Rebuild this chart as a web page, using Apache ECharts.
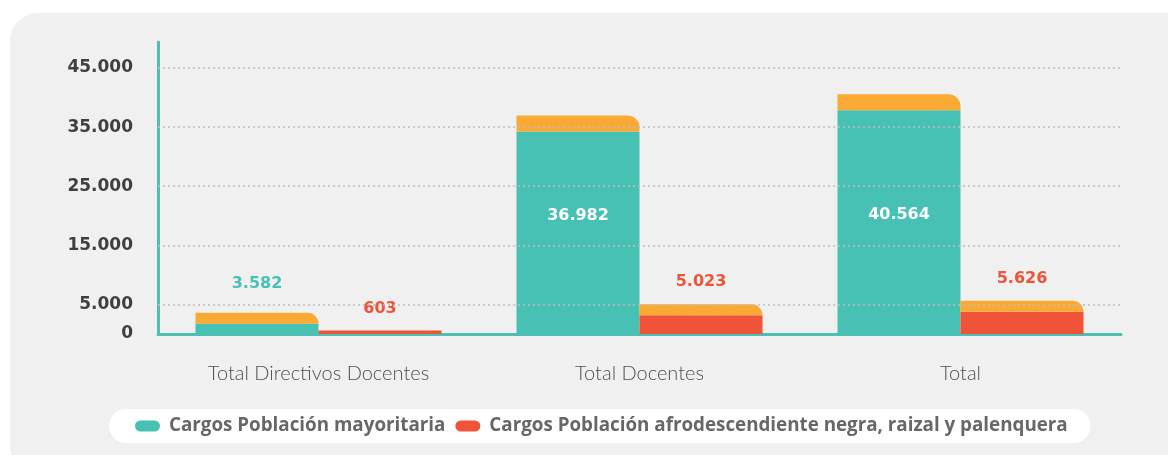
<!DOCTYPE html>
<html lang="es">
<head>
    <meta charset="UTF-8">
    <title>cargos</title>
    <script src="https://cdn.jsdelivr.net/npm/echarts@6/dist/echarts.min.js"></script>
    <style>
        html, body { margin: 0; padding: 0; background: #fff; overflow: hidden; }
        .panel { position: absolute; left: 10px; top: 13px; width: 1200px; height: 460px;
                 border-radius: 28px; background: #eff0ef; }
        .mainChart { position: absolute; left: 0; top: 0; width: 1168px; height: 455px; }
    </style>
</head>
<body>
<div class="panel"></div>
<div id="chart" class="mainChart"></div>

<script type="text/javascript">
    // datos
    var categorias = ['Total Directivos Docentes', 'Total Docentes', 'Total'];
    var mayoritaria = [3582, 36982, 40564];
    var afro = [603, 5023, 5626];
    // franja naranja encima de cada barra
    var franjaMay = [1860, 2710, 2710];
    var franjaAfro = [0, 1860, 1860];
    var tickValues = [0, 5000, 15000, 25000, 35000, 45000];
    var nombres = ['Cargos Población mayoritaria', 'Cargos Población afrodescendiente negra, raizal y palenquera'];

    var TEAL = '#47c1b3', ORANGE = '#f9a934', RED = '#ef5338';

    function fmt(v) {
        return String(v).replace(/\B(?=(\d{3})+(?!\d))/g, '.');
    }

    var baseMay = mayoritaria.map(function (v, i) { return v - franjaMay[i]; });
    var baseAfro = afro.map(function (v, i) { return v - franjaAfro[i]; });

    var valFont = { fontFamily: 'DejaVu Sans', fontWeight: 'bold', fontSize: 16 };

    var myChart = echarts.init(document.getElementById('chart'));
    var option = {
        backgroundColor: 'transparent',
        animation: false,
        grid: { left: 158, right: 47, top: 42, bottom: 121 },
        legend: {
            data: [
                { name: nombres[0], itemStyle: { color: TEAL } },
                { name: nombres[1], itemStyle: { color: RED } }
            ],
            left: 109,
            top: 409,
            backgroundColor: '#ffffff',
            borderRadius: 17,
            padding: [7, 23, 7, 26],
            itemGap: 10,
            itemWidth: 25,
            itemHeight: 11,
            icon: 'path://M5.5,0H19.5A5.5,5.5,0,0,1,19.5,11H5.5A5.5,5.5,0,0,1,5.5,0Z',
            textStyle: {
                fontFamily: 'Open Sans',
                fontWeight: 'bold',
                fontSize: 18.8,
                color: '#676767',
                lineHeight: 20,
                padding: [0, 0, 0, 4]
            }
        },
        xAxis: {
            type: 'category',
            data: categorias,
            axisLine: { lineStyle: { color: '#4cc1b3', width: 3 } },
            axisTick: { show: false },
            axisLabel: {
                margin: 30,
                fontFamily: 'Lato',
                fontWeight: 300,
                fontSize: 20,
                color: '#4f4f4f'
            }
        },
        yAxis: {
            type: 'value',
            min: 0,
            max: 49400,
            axisLine: { show: true, lineStyle: { color: '#4cc1b3', width: 3 } },
            axisTick: { show: false },
            splitLine: { show: false },
            axisLabel: {
                customValues: tickValues,
                formatter: function (v) { return fmt(v); },
                margin: 25,
                fontFamily: 'DejaVu Sans',
                fontWeight: 'bold',
                fontSize: 17,
                color: '#3f3f3f'
            }
        },
        series: [
            {
                // lineas guia punteadas
                type: 'line',
                data: [],
                z: 1,
                silent: true,
                markLine: {
                    symbol: 'none',
                    silent: true,
                    label: { show: false },
                    lineStyle: { color: '#bdbdbd', width: 1.5, type: [2, 3] },
                    data: tickValues.slice(1).map(function (v) { return { yAxis: v }; })
                }
            },
            {
                name: nombres[0],
                type: 'bar',
                stack: 'may',
                barWidth: 123,
                barGap: '0%',
                itemStyle: { color: TEAL },
                data: baseMay.map(function (v, i) {
                    var d = { value: v };
                    if (i > 0) {
                        d.label = {
                            show: true,
                            position: 'inside',
                            offset: [0, i === 1 ? -17 : -7],
                            color: '#ffffff',
                            fontFamily: valFont.fontFamily,
                            fontWeight: valFont.fontWeight,
                            fontSize: valFont.fontSize,
                            formatter: fmt(mayoritaria[i])
                        };
                    }
                    return d;
                })
            },
            {
                name: 'franjaMay',
                type: 'bar',
                stack: 'may',
                barWidth: 123,
                itemStyle: { color: ORANGE, borderRadius: [0, 12, 0, 0] },
                data: franjaMay.map(function (v, i) {
                    var d = { value: v };
                    if (i === 0) {
                        d.label = {
                            show: true,
                            position: 'top',
                            distance: 21,
                            color: TEAL,
                            fontFamily: valFont.fontFamily,
                            fontWeight: valFont.fontWeight,
                            fontSize: valFont.fontSize,
                            formatter: fmt(mayoritaria[i])
                        };
                    }
                    return d;
                })
            },
            {
                name: nombres[1],
                type: 'bar',
                stack: 'afro',
                barWidth: 123,
                barGap: '0%',
                itemStyle: { color: RED },
                data: baseAfro
            },
            {
                name: 'franjaAfro',
                type: 'bar',
                stack: 'afro',
                barWidth: 123,
                itemStyle: { color: ORANGE, borderRadius: [0, 12, 0, 0] },
                label: {
                    show: true,
                    position: 'top',
                    distance: 14,
                    color: RED,
                    fontFamily: valFont.fontFamily,
                    fontWeight: valFont.fontWeight,
                    fontSize: valFont.fontSize,
                    formatter: function (p) { return fmt(afro[p.dataIndex]); }
                },
                data: franjaAfro
            }
        ]
    };
    myChart.setOption(option);
</script>
</body>
</html>
